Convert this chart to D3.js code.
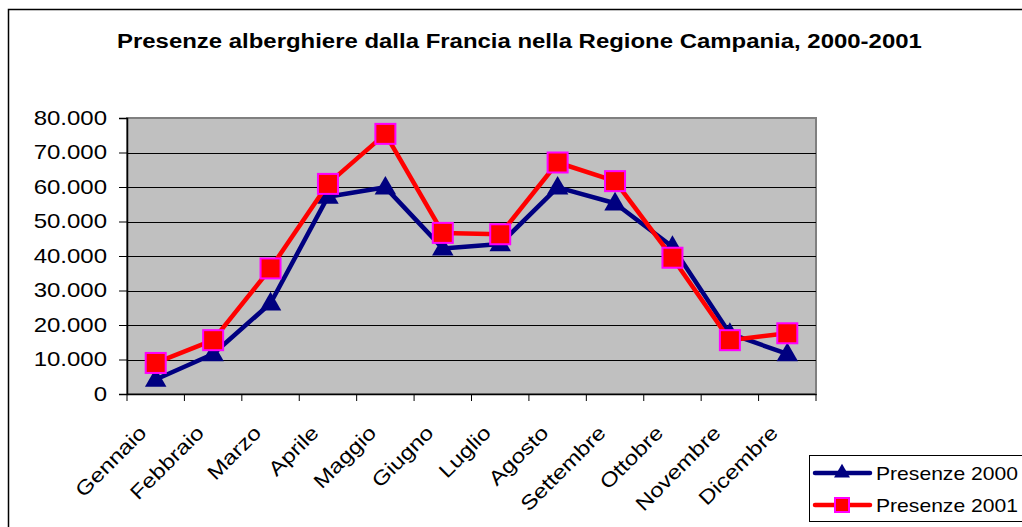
<!DOCTYPE html>
<html>
<head>
<meta charset="utf-8">
<script src="https://cdn.jsdelivr.net/npm/d3@7/dist/d3.min.js"></script>
<style>
  body { margin: 0; background: #fff; }
  svg { display: block; font-family: Arial, "Liberation Sans", sans-serif; }
</style>
</head>
<body>
<script>
// Months and values
var months = ["Gennaio", "Febbraio", "Marzo", "Aprile", "Maggio", "Giugno",
              "Luglio", "Agosto", "Settembre", "Ottobre", "Novembre", "Dicembre"];
var presenze2000 = [4200, 11600, 26300, 57200, 59900, 42200, 43500, 59900, 55300, 42700, 17500, 11600];
var presenze2001 = [9000, 15600, 36400, 60900, 75400, 46700, 46300, 67100, 61700, 39500, 15600, 17600];
var yTicks = [0, 10000, 20000, 30000, 40000, 50000, 60000, 70000, 80000];

var width = 1022, height = 527;
var plot = { left: 127, top: 118, right: 816, bottom: 394 };

var svg = d3.select("body").append("svg")
    .attr("width", width)
    .attr("height", height);

// the old chart's text is drawn wider than Arial, so widen the glyphs
function widen(x, y, angle, k) {
  return "translate(" + x + "," + y + ") rotate(" + angle + ") scale(" + k + ",1)";
}

// chart frame
svg.append("rect")
   .attr("x", 8.5).attr("y", 9.5)
   .attr("width", 1100).attr("height", 600)
   .attr("fill", "#fff").attr("stroke", "#000").attr("stroke-width", 1.5);

var title = svg.append("text")
   .style("font-size", "19.5px").style("font-weight", "bold")
   .text("Presenze alberghiere dalla Francia nella Regione Campania, 2000-2001");
title.attr("transform", widen(117, 48, 0, 805 / title.node().getComputedTextLength()));

var x = d3.scaleBand().domain(months).range([plot.left, plot.right]);
var y = d3.scaleLinear().domain([0, 80000]).range([plot.bottom, plot.top]);

// plot area
svg.append("rect")
   .attr("x", plot.left).attr("y", plot.top)
   .attr("width", plot.right - plot.left).attr("height", plot.bottom - plot.top)
   .attr("fill", "#c0c0c0").attr("stroke", "#808080").attr("stroke-width", 2);

svg.selectAll(".grid")
   .data(yTicks.slice(1, -1))
   .enter().append("line")
   .attr("x1", plot.left).attr("x2", plot.right)
   .attr("y1", function(d) { return Math.round(y(d)) + 0.5; })
   .attr("y2", function(d) { return Math.round(y(d)) + 0.5; })
   .attr("stroke", "#000").attr("stroke-width", 1);

var fmt = function(d) { return d3.format(",")(d).replace(/,/g, "."); };

var yAxis = svg.append("g")
   .attr("transform", "translate(" + plot.left + ",0)")
   .call(d3.axisLeft(y).tickValues(yTicks).tickFormat(fmt).tickSize(8).tickPadding(12));
yAxis.selectAll("text")
   .style("font-size", "20px").attr("fill", "#000")
   .attr("x", null)
   .attr("transform", widen(-20, 0, 0, 1.2));

var xAxis = svg.append("g")
   .attr("transform", "translate(0," + plot.bottom + ")")
   .call(d3.axisBottom(x).tickSize(0).tickFormat(""));
xAxis.select(".domain").attr("stroke", "#000").attr("stroke-width", 1.5);
yAxis.select(".domain").attr("stroke", "#000").attr("stroke-width", 1.5);

// category tick marks between months
svg.selectAll(".xtick")
   .data(months.concat([null]))
   .enter().append("line")
   .attr("x1", function(d, i) { return plot.left + i * x.bandwidth(); })
   .attr("x2", function(d, i) { return plot.left + i * x.bandwidth(); })
   .attr("y1", plot.bottom).attr("y2", plot.bottom + 7)
   .attr("stroke", "#000");

svg.selectAll(".xlabel")
   .data(months)
   .enter().append("text")
   .attr("text-anchor", "end")
   .attr("transform", function(d) {
     return widen(x(d) + x.bandwidth() / 2 - 8, plot.bottom + 40, -45, 1.2);
   })
   .style("font-size", "20px")
   .text(function(d) { return d; });

var line = d3.line()
   .x(function(d, i) { return x(months[i]) + x.bandwidth() / 2; })
   .y(function(d) { return y(d); });

var tri = d3.symbol().type(d3.symbolTriangle).size(200);

function drawSeries(values, color, isSquare) {
  svg.append("path")
     .datum(values)
     .attr("d", line)
     .attr("fill", "none")
     .attr("stroke", color)
     .attr("stroke-width", 4.5)
     .attr("stroke-linejoin", "round");
  var pts = svg.selectAll(null).data(values).enter();
  if (isSquare) {
    pts.append("rect")
       .attr("x", function(d, i) { return x(months[i]) + x.bandwidth() / 2 - 10; })
       .attr("y", function(d) { return y(d) - 10; })
       .attr("width", 20).attr("height", 20)
       .attr("fill", "#ff0000").attr("stroke", "#ff00ff").attr("stroke-width", 2);
  } else {
    pts.append("path")
       .attr("d", tri)
       .attr("transform", function(d, i) {
         return "translate(" + (x(months[i]) + x.bandwidth() / 2) + "," + (y(d) + 1) + ")";
       })
       .attr("fill", "#000080");
  }
}

drawSeries(presenze2000, "#000080", false);
drawSeries(presenze2001, "#ff0000", true);

// legend
var legend = svg.append("g");
legend.append("rect")
   .attr("x", 809.5).attr("y", 455.5)
   .attr("width", 240).attr("height", 66)
   .attr("fill", "#fff").attr("stroke", "#000").attr("stroke-width", 1);

var legendItems = [
  { name: "Presenze 2000", color: "#000080", square: false, y: 473 },
  { name: "Presenze 2001", color: "#ff0000", square: true, y: 505 }
];
legendItems.forEach(function(item) {
  legend.append("line")
     .attr("x1", 815).attr("x2", 870)
     .attr("y1", item.y).attr("y2", item.y)
     .attr("stroke", item.color).attr("stroke-width", 4.5)
     .attr("stroke-linecap", "round");
  if (item.square) {
    legend.append("rect")
       .attr("x", 835).attr("y", item.y - 7).attr("width", 14).attr("height", 14)
       .attr("fill", "#ff0000").attr("stroke", "#ff00ff").attr("stroke-width", 2);
  } else {
    legend.append("path")
       .attr("d", d3.symbol().type(d3.symbolTriangle).size(110))
       .attr("transform", "translate(842," + item.y + ")")
       .attr("fill", "#000080");
  }
  var t = legend.append("text")
     .style("font-size", "19px")
     .text(item.name);
  t.attr("transform", widen(876, item.y + 7, 0, 142 / t.node().getComputedTextLength()));
});
</script>
</body>
</html>
